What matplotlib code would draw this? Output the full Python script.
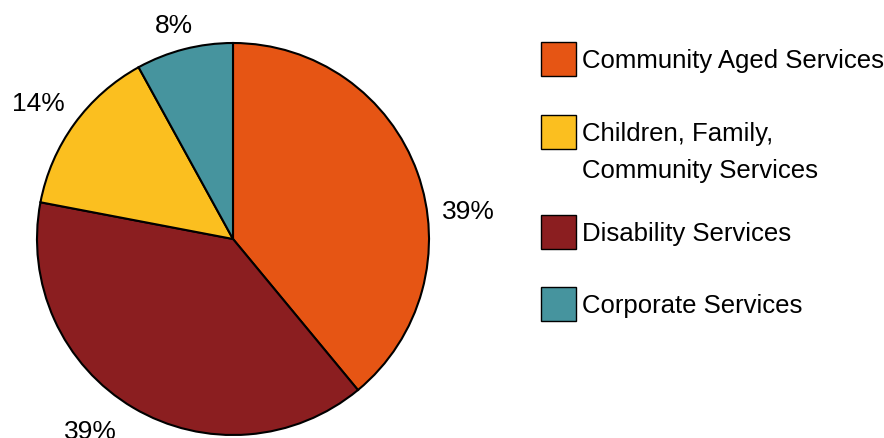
import numpy as np
import matplotlib
matplotlib.use('Agg')
import matplotlib.pyplot as plt
from matplotlib.patches import Rectangle

# data (pie order, clockwise from the top)
categories = ['Community Aged Services', 'Disability Services',
              'Children, Family,\nCommunity Services', 'Corporate Services']
shares = [39, 39, 14, 8]
pct_labels = ['39%', '39%', '14%', '8%']
colours = ['#E65514', '#8B1E20', '#FBBF1F', '#46949E']
# legend lists the slices in this order
legend_order = [0, 2, 1, 3]

plt.rcParams['font.family'] = ['Liberation Sans', 'DejaVu Sans']

W, H = 884, 439
fig = plt.figure(figsize=(W / 100, H / 100), dpi=100)


def px(x, y):
	# pixel (from top-left) to figure fraction
	return x / W, 1 - y / H


cx, cy, r = 233, 240, 196
ax = fig.add_axes([(cx - r) / W, (H - cy - r) / H, 2 * r / W, 2 * r / H])
wedges, _ = ax.pie(shares, colors=colours, startangle=90, counterclock=False,
                   wedgeprops=dict(edgecolor='black', linewidth=1.5))
ax.set_xlim(-1, 1)
ax.set_ylim(-1, 1)
ax.set_aspect('equal')
ax.axis('off')

# percentage labels outside the slices
nudge = [-13, -6, 1, 1]
dist = [1.21, 1.22, 1.21, 1.13]
for i, w in enumerate(wedges):
	ang = np.radians((w.theta1 + w.theta2) / 2 + nudge[i])
	ax.text(dist[i] * np.cos(ang), dist[i] * np.sin(ang), pct_labels[i],
	        ha='center', va='center', fontsize=19, clip_on=False)

# legend drawn by hand
rows_y = [60, 133, 233, 305]
for k, y in zip(legend_order, rows_y):
	x0, y0 = px(541, y + 17)
	fig.add_artist(Rectangle((x0, y0), 35 / W, 34 / H, transform=fig.transFigure,
	                         facecolor=colours[k], edgecolor='black', linewidth=1.0))
	tx, ty = px(582, y - 11)
	fig.text(tx, ty, categories[k], ha='left', va='top', fontsize=18.5,
	         linespacing=1.68)

fig.savefig('out.png', dpi=100)
